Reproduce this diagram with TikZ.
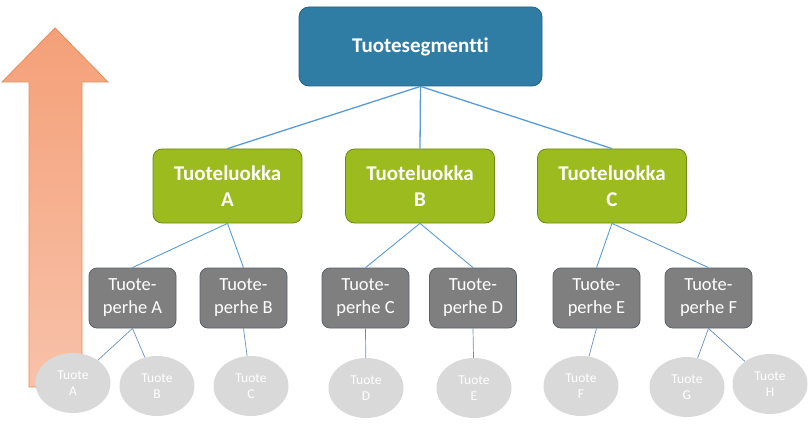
\documentclass[tikz,border=0pt]{standalone}
\usepackage{fontspec}
\setmainfont{Carlito}[Ligatures={NoCommon}]
\usetikzlibrary{shapes.geometric}
\definecolor{segblue}{HTML}{2F7DA5}
\definecolor{segborder}{HTML}{24617F}
\definecolor{luokka}{HTML}{9BBB1E}
\definecolor{luokkaborder}{HTML}{6F8A16}
\definecolor{perhe}{HTML}{7F7F7F}
\definecolor{perheborder}{HTML}{58626C}
\definecolor{tuote}{HTML}{D9D9D9}
\definecolor{linkblue}{HTML}{5B9BD5}
\definecolor{thinlink}{HTML}{6A8FBF}
\definecolor{arrowtop}{HTML}{F4A078}
\definecolor{arrowbottom}{HTML}{F8C2AA}
\definecolor{arrowborder}{HTML}{EE8A55}
\tikzset{
  segbox/.style={draw=segborder, fill=segblue, rounded corners=10pt, minimum width=243pt, minimum height=79pt, text=white, font=\fontsize{21}{24}\selectfont\bfseries, line width=0.8pt},
  luokkabox/.style={draw=luokkaborder, fill=luokka, rounded corners=9pt, minimum width=149pt, minimum height=74pt, text=white, align=center, font=\fontsize{21}{26}\selectfont\bfseries, line width=0.8pt},
  perhebox/.style={draw=perheborder, fill=perhe, rounded corners=8pt, minimum width=87pt, minimum height=60pt, text=white, align=center, font=\fontsize{18.5}{23}\selectfont, line width=0.8pt},
  tuoteell/.style={ellipse, fill=tuote, minimum width=75pt, minimum height=60pt, inner sep=0pt, text=white, align=center, font=\fontsize{13.5}{16}\selectfont},
  toplink/.style={draw=linkblue, line width=1.3pt},
  midlink/.style={draw=linkblue, line width=0.9pt},
  lowlink/.style={draw=thinlink, line width=0.7pt}
}
\begin{document}
\begin{tikzpicture}[x=1pt,y=-1pt]
\useasboundingbox (0,0) rectangle (811,425);
% rising arrow
\path[draw=arrowborder, line width=0.8pt, top color=arrowtop, bottom color=arrowbottom]
  (55,28) -- (108,82) -- (82,82) -- (82,387) -- (29,387) -- (29,82) -- (2,82) -- cycle;
% top
\node[segbox] (seg) at (420.5,46.5) {Tuotesegmentti};
% level 2
\node[luokkabox] (la) at (227.5,186) {Tuoteluokka\\A};
\node[luokkabox] (lb) at (420,186) {Tuoteluokka\\B};
\node[luokkabox] (lc) at (612,186) {Tuoteluokka\\C};
% level 3
\node[perhebox] (pa) at (132.5,298) {Tuote-\\perhe A};
\node[perhebox] (pb) at (243.5,298) {Tuote-\\perhe B};
\node[perhebox] (pc) at (365.5,298) {Tuote-\\perhe C};
\node[perhebox] (pd) at (473,298) {Tuote-\\perhe D};
\node[perhebox] (pe) at (596.5,298) {Tuote-\\perhe E};
\node[perhebox] (pf) at (708.5,298) {Tuote-\\perhe F};
% products
\node[tuoteell] (ta) at (73,383) {Tuote\\A};
\node[tuoteell] (tb) at (157,386) {Tuote\\B};
\node[tuoteell] (tc) at (251,386) {Tuote\\C};
\node[tuoteell] (td) at (366,388) {Tuote\\D};
\node[tuoteell] (te) at (474,388) {Tuote\\E};
\node[tuoteell] (tf) at (581,386) {Tuote\\F};
\node[tuoteell] (tg) at (687,387) {Tuote\\G};
\node[tuoteell] (th) at (770,384) {Tuote\\H};
% connectors
\draw[toplink] (seg.south) -- (la.north);
\draw[toplink] (seg.south) -- (lb.north);
\draw[toplink] (seg.south) -- (lc.north);
\draw[midlink] (la.south) -- (pa.north);
\draw[midlink] (la.south) -- (pb.north);
\draw[midlink] (lb.south) -- (pc.north);
\draw[midlink] (lb.south) -- (pd.north);
\draw[midlink] (lc.south) -- (pe.north);
\draw[midlink] (lc.south) -- (pf.north);
\draw[lowlink] (pa.south) -- (ta);
\draw[lowlink] (pa.south) -- (tb);
\draw[lowlink] (pb.south) -- (tc);
\draw[lowlink] (pc.south) -- (td);
\draw[lowlink] (pd.south) -- (te);
\draw[lowlink] (pe.south) -- (tf);
\draw[lowlink] (pf.south) -- (tg);
\draw[lowlink] (pf.south) -- (th);
\end{tikzpicture}
\end{document}
